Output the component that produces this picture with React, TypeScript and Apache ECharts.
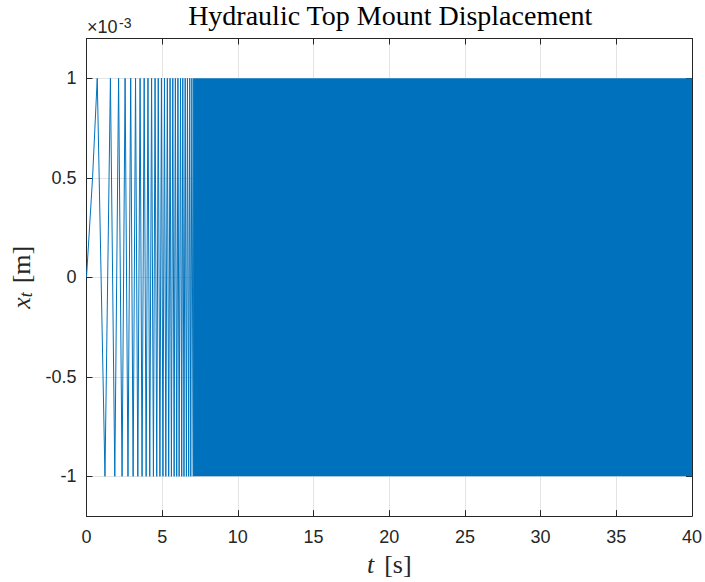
import React, { useEffect, useRef } from "react";
import * as echarts from "echarts";

// Displacement in units of 1e-3 m (axis shows ×10^-3)
// Start of the signal (sampled rise from rest)
const startSamples: [number, number][] = [
  [0, 0],
  [0.4, 0.5],
];
// Times (s) of the positive peaks (+1e-3 m)
const peakTimes = [
  0.71, 1.58, 2.12, 2.55, 2.92, 3.24, 3.54, 3.81, 4.06, 4.3, 4.53, 4.74, 4.95,
  5.15, 5.34, 5.52, 5.7, 5.87, 6.04, 6.21, 6.36, 6.52, 6.67, 6.82, 6.96,
];
// Times (s) of the negative peaks (-1e-3 m)
const troughTimes = [
  1.22, 1.87, 2.35, 2.74, 3.08, 3.39, 3.67, 3.94, 4.18, 4.42, 4.64, 4.85, 5.05,
  5.24, 5.43, 5.61, 5.79, 5.96, 6.12, 6.29, 6.44, 6.6, 6.75, 6.89, 7.04,
];
const peakValue = 1;
const troughValue = -1;
// Beyond this time the oscillation is too dense to resolve: a solid band
const denseStart = 7.04;
const denseEnd = 40;

const xTicks = [0, 5, 10, 15, 20, 25, 30, 35, 40];
const yTicks = [-1, -0.5, 0, 0.5, 1];
const xRange = [0, 40];
const yRange = [-1.2, 1.2];

const BLUE = "#0072BD";
const AXIS = "#262626";
const GRID = "#e3e3e3";
const SANS = "Liberation Sans";
const SERIF = "Liberation Serif";

export default function App() {
  const ref = useRef<HTMLDivElement>(null);

  useEffect(() => {
    if (!ref.current) return;
    const chart = echarts.init(ref.current, undefined, { renderer: "svg" });

    const points: [number, number][] = [
      ...startSamples,
      ...peakTimes.map((t) => [t, peakValue] as [number, number]),
      ...troughTimes.map((t) => [t, troughValue] as [number, number]),
    ].sort((a, b) => a[0] - b[0]);

    const xStep = xTicks[1] - xTicks[0];
    const yLabel = (v: number) => {
      const r = Math.round(v * 100) / 100;
      return yTicks.includes(r) ? String(r) : "";
    };

    const gridLeft = 86.5;
    const gridRight = 11;
    const gridTop = 38.5;
    const gridBottom = 64;
    const plotCenter = gridLeft + (705 - gridLeft - gridRight) / 2;

    const boxLine = { show: true, onZero: false, lineStyle: { color: AXIS, width: 1 } };
    const boxTick = { show: true, inside: true, length: 6, lineStyle: { color: AXIS } };

    chart.setOption({
      animation: false,
      backgroundColor: "#ffffff",
      grid: {
        left: gridLeft,
        right: gridRight,
        top: gridTop,
        bottom: gridBottom,
        containLabel: false,
      },
      graphic: [
        {
          type: "text",
          x: plotCenter,
          y: 1,
          style: {
            text: "Hydraulic Top Mount Displacement",
            fontSize: 28,
            fontFamily: SERIF,
            fill: "#000",
            align: "center",
            verticalAlign: "top",
          },
        },
        {
          type: "text",
          x: 87,
          y: 36,
          style: {
            text: "×10",
            fontSize: 18,
            fontFamily: SANS,
            fill: AXIS,
            align: "left",
            verticalAlign: "bottom",
          },
        },
        {
          type: "text",
          x: 119,
          y: 30,
          style: {
            text: "-3",
            fontSize: 14,
            fontFamily: SANS,
            fill: AXIS,
            align: "left",
            verticalAlign: "bottom",
          },
        },
      ],
      xAxis: [
        {
          type: "value",
          min: xRange[0],
          max: xRange[1],
          interval: xStep,
          position: "bottom",
          name: "{i|t}{g| }{r|[s]}",
          nameLocation: "middle",
          nameGap: 32,
          nameTextStyle: {
            rich: {
              i: { fontFamily: SERIF, fontStyle: "italic", fontSize: 26, color: AXIS },
              g: { fontFamily: SERIF, fontSize: 26, width: 10 },
              r: { fontFamily: SERIF, fontSize: 26, color: AXIS },
            },
          },
          axisLine: boxLine,
          axisTick: boxTick,
          axisLabel: { color: AXIS, fontFamily: SANS, fontSize: 18, margin: 12 },
          splitLine: { show: true, lineStyle: { color: GRID, width: 1 } },
        },
        {
          type: "value",
          min: xRange[0],
          max: xRange[1],
          interval: xStep,
          position: "top",
          axisLine: boxLine,
          axisTick: boxTick,
          axisLabel: { show: false },
          splitLine: { show: false },
        },
      ],
      yAxis: [
        {
          type: "value",
          min: yRange[0],
          max: yRange[1],
          splitNumber: 5,
          position: "left",
          name: "{i|x}{s|t}{g| }{r|[m]}",
          nameLocation: "middle",
          nameGap: 46,
          nameRotate: 90,
          nameTextStyle: {
            rich: {
              i: { fontFamily: SERIF, fontStyle: "italic", fontSize: 26, color: AXIS },
              s: { fontFamily: SERIF, fontStyle: "italic", fontSize: 18, color: AXIS, verticalAlign: "bottom" },
              g: { fontFamily: SERIF, fontSize: 26, width: 9 },
              r: { fontFamily: SERIF, fontSize: 26, color: AXIS },
            },
          },
          axisLine: boxLine,
          axisTick: boxTick,
          axisLabel: {
            color: AXIS,
            fontFamily: SANS,
            fontSize: 18,
            margin: 10,
            showMinLabel: false,
            showMaxLabel: false,
            formatter: yLabel,
          },
          splitLine: { show: true, lineStyle: { color: GRID, width: 1 } },
        },
        {
          type: "value",
          min: yRange[0],
          max: yRange[1],
          splitNumber: 5,
          position: "right",
          axisLine: boxLine,
          axisTick: boxTick,
          axisLabel: { show: false },
          splitLine: { show: false },
        },
      ],
      series: [
        {
          type: "line",
          xAxisIndex: 0,
          yAxisIndex: 0,
          data: points,
          showSymbol: false,
          symbol: "none",
          lineStyle: { color: BLUE, width: 1 },
          itemStyle: { color: BLUE },
          silent: true,
          markArea: {
            silent: true,
            itemStyle: { color: BLUE, opacity: 1 },
            data: [
              [
                { coord: [denseStart, troughValue] },
                { coord: [denseEnd, peakValue] },
              ],
            ],
          },
        },
      ],
    });

    return () => chart.dispose();
  }, []);

  return (
    <div
      ref={ref}
      style={{ position: "fixed", left: 0, top: 0, width: 705, height: 582, background: "#fff" }}
    />
  );
}
